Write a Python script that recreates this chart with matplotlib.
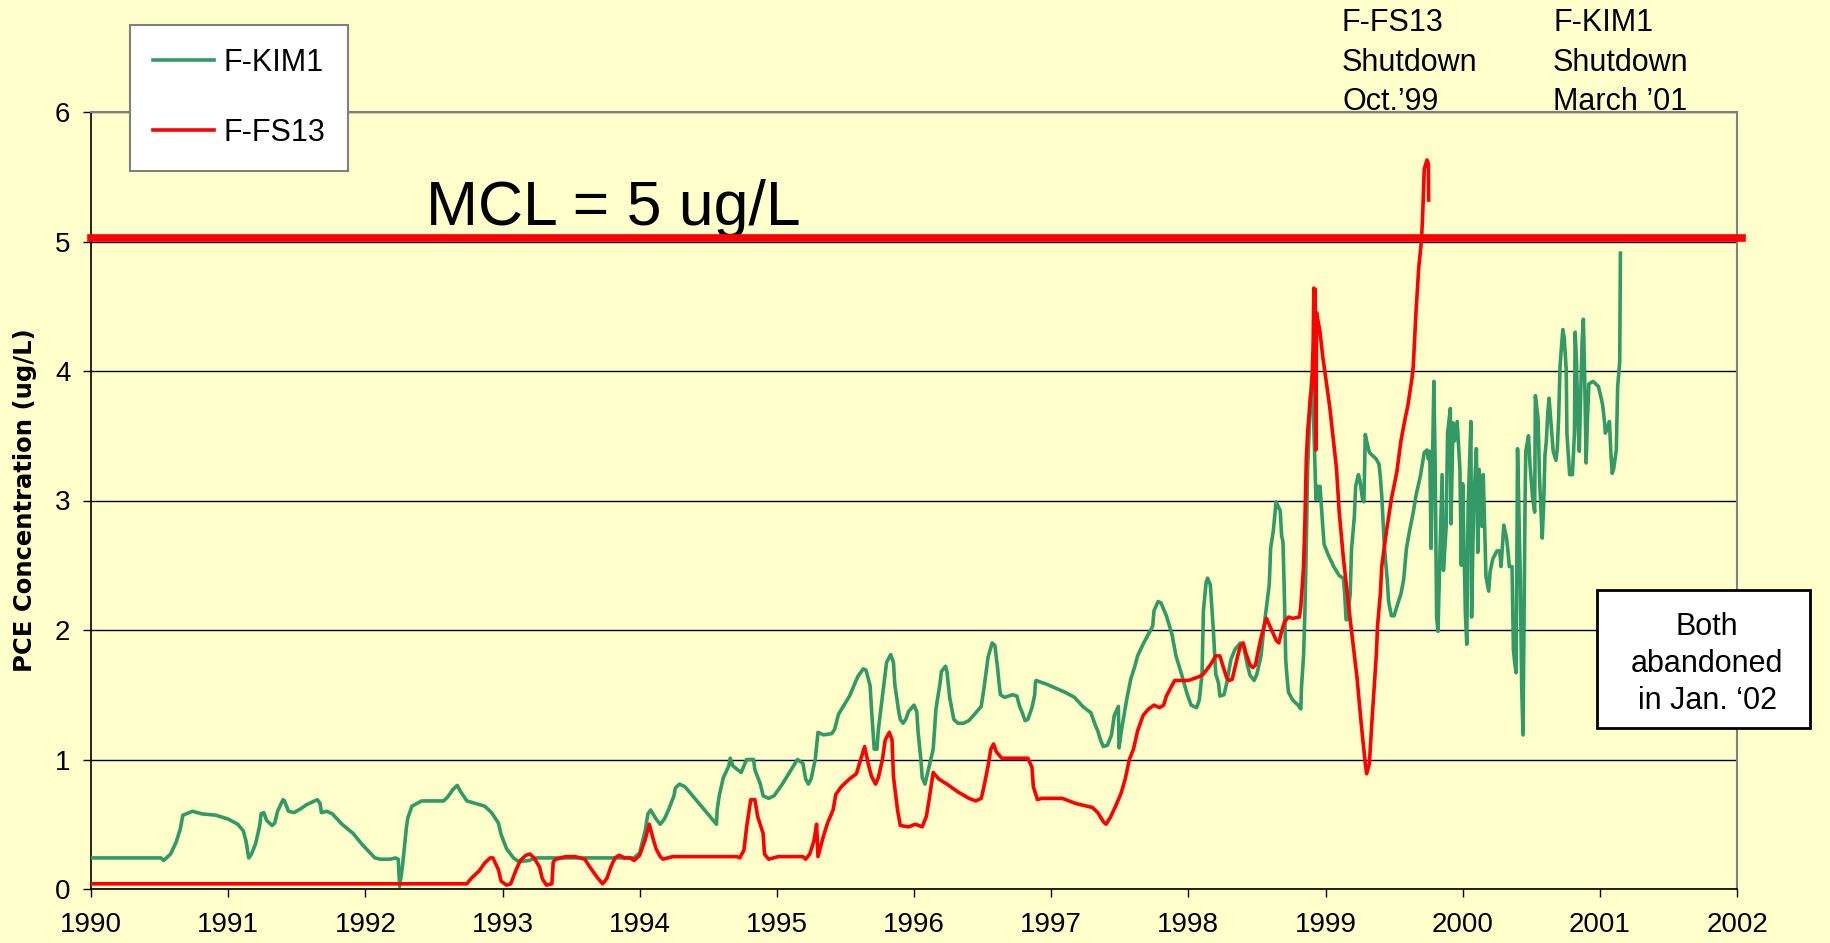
import matplotlib.pyplot as plt
from matplotlib.patches import Rectangle

plt.rcParams['font.family'] = ['Liberation Sans', 'DejaVu Sans']

# F-KIM1 well, PCE (ug/L) vs decimal year
kim_year = [1990.00, 1990.51, 1990.53, 1990.58, 1990.62, 1990.65, 1990.67, 1990.74, 1990.81, 1990.91,
            1991.00, 1991.07, 1991.11, 1991.13, 1991.15, 1991.17, 1991.20, 1991.23, 1991.24, 1991.26,
            1991.28, 1991.32, 1991.34, 1991.36, 1991.40, 1991.41, 1991.44, 1991.48, 1991.53, 1991.57,
            1991.65, 1991.67, 1991.68, 1991.72, 1991.76, 1991.83, 1991.91, 1991.98, 1992.07, 1992.11,
            1992.18, 1992.22, 1992.24, 1992.25, 1992.27, 1992.28, 1992.30, 1992.31, 1992.34, 1992.41,
            1992.57, 1992.60, 1992.64, 1992.67, 1992.69, 1992.74, 1992.87, 1992.92, 1992.97, 1992.99,
            1993.03, 1993.08, 1993.12, 1993.19, 1993.25, 1993.96, 1994.00, 1994.04, 1994.06, 1994.08,
            1994.12, 1994.15, 1994.18, 1994.21, 1994.25, 1994.26, 1994.29, 1994.33, 1994.37, 1994.56,
            1994.565, 1994.58, 1994.61, 1994.65, 1994.66, 1994.68, 1994.74, 1994.78, 1994.83, 1994.84,
            1994.88, 1994.90, 1994.94, 1994.98, 1995.04, 1995.15, 1995.19, 1995.21, 1995.23, 1995.25,
            1995.28, 1995.30, 1995.34, 1995.40, 1995.42, 1995.45, 1995.53, 1995.57, 1995.59, 1995.63,
            1995.65, 1995.68, 1995.69, 1995.71, 1995.73, 1995.74, 1995.77, 1995.80, 1995.83, 1995.85,
            1995.86, 1995.89, 1995.90, 1995.92, 1995.94, 1995.96, 1996.00, 1996.02, 1996.03, 1996.05,
            1996.06, 1996.08, 1996.10, 1996.14, 1996.16, 1996.19, 1996.20, 1996.23, 1996.24, 1996.26,
            1996.29, 1996.32, 1996.36, 1996.40, 1996.45, 1996.49, 1996.51, 1996.54, 1996.57, 1996.59,
            1996.61, 1996.62, 1996.63, 1996.66, 1996.72, 1996.75, 1996.77, 1996.79, 1996.81, 1996.83,
            1996.86, 1996.88, 1996.885, 1996.89, 1996.97, 1997.10, 1997.17, 1997.23, 1997.29, 1997.32,
            1997.34, 1997.36, 1997.38, 1997.41, 1997.44, 1997.46, 1997.49, 1997.495, 1997.51, 1997.55,
            1997.58, 1997.61, 1997.63, 1997.67, 1997.71, 1997.74, 1997.75, 1997.78, 1997.80, 1997.84,
            1997.88, 1997.91, 1997.95, 1997.99, 1998.02, 1998.06, 1998.08, 1998.10, 1998.11, 1998.13,
            1998.14, 1998.16, 1998.18, 1998.20, 1998.22, 1998.23, 1998.26, 1998.28, 1998.31, 1998.34,
            1998.38, 1998.40, 1998.43, 1998.45, 1998.48, 1998.50, 1998.53, 1998.55, 1998.57, 1998.59,
            1998.60, 1998.62, 1998.64, 1998.67, 1998.68, 1998.69, 1998.70, 1998.71, 1998.72, 1998.73,
            1998.76, 1998.80, 1998.82, 1998.825, 1998.84, 1998.85, 1998.86, 1998.87, 1998.88, 1998.89,
            1998.90, 1998.91, 1998.92, 1998.93, 1998.94, 1998.95, 1998.96, 1998.98, 1998.99, 1999.02,
            1999.06, 1999.10, 1999.13, 1999.14, 1999.15, 1999.16, 1999.18, 1999.19, 1999.21, 1999.22,
            1999.24, 1999.25, 1999.27, 1999.28, 1999.29, 1999.30, 1999.32, 1999.37, 1999.39, 1999.40,
            1999.41, 1999.42, 1999.43, 1999.45, 1999.46, 1999.48, 1999.50, 1999.52, 1999.55, 1999.57,
            1999.59, 1999.61, 1999.64, 1999.66, 1999.69, 1999.72, 1999.74, 1999.75, 1999.76, 1999.77,
            1999.79, 1999.80, 1999.81, 1999.82, 1999.83, 1999.85, 1999.86, 1999.88, 1999.89, 1999.91,
            1999.915, 1999.93, 1999.94, 1999.96, 1999.98, 1999.99, 2000.00, 2000.02, 2000.03, 2000.04,
            2000.06, 2000.065, 2000.08, 2000.10, 2000.11, 2000.12, 2000.14, 2000.15, 2000.16, 2000.17,
            2000.19, 2000.20, 2000.22, 2000.25, 2000.27, 2000.28, 2000.30, 2000.32, 2000.33, 2000.34,
            2000.36, 2000.37, 2000.38, 2000.39, 2000.40, 2000.42, 2000.43, 2000.44, 2000.45, 2000.455,
            2000.46, 2000.48, 2000.49, 2000.51, 2000.525, 2000.53, 2000.55, 2000.56, 2000.58, 2000.59,
            2000.60, 2000.61, 2000.62, 2000.63, 2000.65, 2000.66, 2000.68, 2000.69, 2000.70, 2000.71,
            2000.73, 2000.74, 2000.755, 2000.76, 2000.78, 2000.80, 2000.815, 2000.82, 2000.83, 2000.84,
            2000.85, 2000.87, 2000.88, 2000.89, 2000.90, 2000.91, 2000.92, 2000.95, 2000.99, 2001.01,
            2001.02, 2001.035, 2001.04, 2001.06, 2001.07, 2001.08, 2001.09, 2001.10, 2001.12, 2001.13,
            2001.145, 2001.15]
kim_pce = [0.24, 0.24, 0.22, 0.27, 0.36, 0.46, 0.57, 0.60, 0.58, 0.57,
           0.54, 0.50, 0.45, 0.37, 0.24, 0.27, 0.35, 0.49, 0.58, 0.59,
           0.53, 0.49, 0.51, 0.60, 0.69, 0.68, 0.60, 0.59, 0.62, 0.65,
           0.69, 0.66, 0.59, 0.60, 0.58, 0.50, 0.43, 0.34, 0.24, 0.23,
           0.23, 0.24, 0.23, 0.02, 0.17, 0.27, 0.48, 0.55, 0.64, 0.68,
           0.68, 0.71, 0.77, 0.80, 0.76, 0.68, 0.64, 0.59, 0.51, 0.42,
           0.31, 0.24, 0.21, 0.22, 0.24, 0.24, 0.28, 0.45, 0.58, 0.61,
           0.54, 0.50, 0.54, 0.61, 0.72, 0.78, 0.81, 0.79, 0.74, 0.50,
           0.61, 0.72, 0.86, 0.95, 1.01, 0.95, 0.90, 1.00, 1.00, 0.92,
           0.81, 0.72, 0.70, 0.72, 0.81, 1.00, 0.97, 0.85, 0.81, 0.85,
           1.00, 1.21, 1.19, 1.20, 1.23, 1.35, 1.49, 1.59, 1.64, 1.70,
           1.69, 1.57, 1.39, 1.08, 1.08, 1.23, 1.49, 1.75, 1.81, 1.75,
           1.58, 1.36, 1.31, 1.28, 1.31, 1.37, 1.42, 1.37, 1.21, 1.00,
           0.86, 0.81, 0.90, 1.08, 1.39, 1.59, 1.68, 1.72, 1.68, 1.48,
           1.31, 1.28, 1.28, 1.30, 1.36, 1.41, 1.55, 1.79, 1.90, 1.88,
           1.70, 1.59, 1.50, 1.48, 1.50, 1.49, 1.41, 1.36, 1.30, 1.31,
           1.40, 1.50, 1.59, 1.61, 1.58, 1.52, 1.48, 1.41, 1.36, 1.27,
           1.22, 1.15, 1.10, 1.11, 1.19, 1.34, 1.41, 1.09, 1.21, 1.46,
           1.62, 1.72, 1.80, 1.89, 1.97, 2.03, 2.15, 2.22, 2.21, 2.11,
           1.97, 1.80, 1.66, 1.51, 1.42, 1.40, 1.46, 1.66, 2.15, 2.37,
           2.40, 2.35, 2.04, 1.66, 1.59, 1.49, 1.50, 1.59, 1.77, 1.85,
           1.90, 1.89, 1.73, 1.65, 1.61, 1.66, 1.80, 2.01, 2.18, 2.35,
           2.63, 2.77, 2.99, 2.92, 2.73, 2.68, 2.28, 1.77, 1.63, 1.52,
           1.46, 1.42, 1.39, 1.56, 1.80, 2.15, 2.66, 3.25, 3.53, 3.80,
           3.96, 3.73, 3.39, 3.01, 3.11, 3.01, 3.11, 2.80, 2.66, 2.58,
           2.49, 2.42, 2.40, 2.28, 2.08, 2.08, 2.28, 2.63, 2.87, 3.11,
           3.20, 3.16, 3.01, 2.99, 3.51, 3.46, 3.37, 3.32, 3.28, 3.18,
           3.04, 2.84, 2.63, 2.39, 2.22, 2.11, 2.11, 2.18, 2.28, 2.39,
           2.63, 2.75, 2.91, 3.04, 3.18, 3.37, 3.39, 3.32, 3.38, 2.63,
           3.92, 3.24, 2.10, 1.99, 2.41, 3.20, 2.46, 2.80, 3.52, 3.71,
           2.82, 3.60, 3.46, 3.61, 3.24, 2.50, 3.13, 2.12, 1.89, 2.96,
           3.61, 2.10, 2.96, 3.40, 2.60, 3.24, 2.80, 3.20, 2.80, 2.41,
           2.30, 2.45, 2.55, 2.61, 2.61, 2.49, 2.81, 2.71, 2.61, 2.49,
           2.49, 1.85, 1.74, 1.67, 3.40, 2.41, 1.58, 1.19, 2.41, 2.99,
           3.38, 3.50, 3.29, 3.02, 2.91, 3.81, 3.63, 3.18, 2.71, 2.96,
           3.35, 3.46, 3.67, 3.79, 3.52, 3.38, 3.31, 3.40, 3.65, 4.04,
           4.32, 4.26, 4.01, 3.52, 3.20, 3.20, 3.52, 4.30, 4.07, 3.63,
           3.38, 4.21, 4.40, 3.93, 3.29, 3.63, 3.90, 3.92, 3.88, 3.79,
           3.74, 3.60, 3.52, 3.57, 3.61, 3.38, 3.21, 3.24, 3.39, 3.88,
           4.07, 4.91]

# F-FS13 well, PCE (ug/L) vs decimal year
fs_year = [1990.00, 1992.74, 1992.77, 1992.83, 1992.87, 1992.91, 1992.93, 1992.97, 1992.99, 1993.03,
           1993.06, 1993.10, 1993.13, 1993.17, 1993.20, 1993.23, 1993.27, 1993.29, 1993.32, 1993.36,
           1993.37, 1993.39, 1993.46, 1993.53, 1993.60, 1993.63, 1993.69, 1993.73, 1993.76, 1993.79,
           1993.82, 1993.85, 1993.89, 1993.93, 1993.96, 1994.00, 1994.04, 1994.07, 1994.10, 1994.12,
           1994.15, 1994.17, 1994.24, 1994.71, 1994.73, 1994.76, 1994.78, 1994.81, 1994.84, 1994.86,
           1994.90, 1994.91, 1994.94, 1995.01, 1995.19, 1995.21, 1995.24, 1995.27, 1995.29, 1995.30,
           1995.34, 1995.37, 1995.41, 1995.43, 1995.47, 1995.53, 1995.58, 1995.60, 1995.64, 1995.67,
           1995.69, 1995.72, 1995.74, 1995.77, 1995.79, 1995.82, 1995.84, 1995.85, 1995.88, 1995.90,
           1995.96, 1996.01, 1996.06, 1996.09, 1996.11, 1996.14, 1996.18, 1996.24, 1996.32, 1996.40,
           1996.45, 1996.49, 1996.51, 1996.54, 1996.56, 1996.58, 1996.60, 1996.64, 1996.83, 1996.86,
           1996.87, 1996.90, 1996.93, 1997.08, 1997.18, 1997.30, 1997.34, 1997.38, 1997.40, 1997.43,
           1997.47, 1997.51, 1997.54, 1997.57, 1997.60, 1997.63, 1997.67, 1997.71, 1997.75, 1997.79,
           1997.82, 1997.84, 1997.87, 1997.90, 1998.00, 1998.08, 1998.11, 1998.16, 1998.20, 1998.23,
           1998.25, 1998.28, 1998.30, 1998.32, 1998.34, 1998.36, 1998.38, 1998.40, 1998.42, 1998.45,
           1998.47, 1998.49, 1998.51, 1998.53, 1998.56, 1998.57, 1998.59, 1998.62, 1998.64, 1998.66,
           1998.68, 1998.70, 1998.73, 1998.76, 1998.81, 1998.82, 1998.84, 1998.85, 1998.86, 1998.87,
           1998.89, 1998.90, 1998.91, 1998.915, 1998.925, 1998.93, 1998.935, 1998.96, 1998.98, 1999.03,
           1999.08, 1999.10, 1999.13, 1999.18, 1999.23, 1999.26, 1999.29, 1999.30, 1999.32, 1999.34,
           1999.37, 1999.38, 1999.40, 1999.41, 1999.44, 1999.48, 1999.52, 1999.55, 1999.58, 1999.60,
           1999.63, 1999.64, 1999.65, 1999.66, 1999.68, 1999.70, 1999.71, 1999.72, 1999.74, 1999.75,
           1999.752]
fs_pce = [0.04, 0.04, 0.08, 0.14, 0.20, 0.24, 0.24, 0.15, 0.06, 0.03,
          0.04, 0.15, 0.22, 0.26, 0.27, 0.24, 0.17, 0.08, 0.03, 0.04,
          0.21, 0.23, 0.25, 0.25, 0.23, 0.18, 0.09, 0.04, 0.08, 0.17,
          0.24, 0.26, 0.24, 0.24, 0.22, 0.26, 0.38, 0.50, 0.38, 0.31,
          0.25, 0.23, 0.25, 0.25, 0.24, 0.30, 0.48, 0.69, 0.69, 0.56,
          0.43, 0.27, 0.23, 0.25, 0.25, 0.23, 0.27, 0.37, 0.50, 0.25,
          0.41, 0.51, 0.61, 0.73, 0.79, 0.85, 0.89, 0.96, 1.10, 0.95,
          0.87, 0.81, 0.86, 1.00, 1.15, 1.21, 1.15, 0.87, 0.61, 0.49,
          0.48, 0.50, 0.48, 0.56, 0.69, 0.90, 0.85, 0.81, 0.75, 0.70,
          0.68, 0.70, 0.79, 0.95, 1.08, 1.12, 1.06, 1.01, 1.01, 0.94,
          0.79, 0.69, 0.70, 0.70, 0.66, 0.63, 0.59, 0.52, 0.50, 0.55,
          0.64, 0.74, 0.85, 1.00, 1.08, 1.22, 1.34, 1.39, 1.42, 1.40,
          1.42, 1.49, 1.55, 1.61, 1.61, 1.64, 1.66, 1.73, 1.80, 1.80,
          1.73, 1.63, 1.61, 1.62, 1.71, 1.80, 1.88, 1.90, 1.82, 1.73,
          1.71, 1.73, 1.84, 1.94, 2.06, 2.09, 2.04, 1.97, 1.92, 1.90,
          1.99, 2.06, 2.10, 2.09, 2.10, 2.18, 2.49, 2.84, 3.32, 3.53,
          3.80, 3.87, 4.22, 4.64, 4.63, 3.39, 4.45, 4.30, 4.11, 3.73,
          3.25, 2.91, 2.56, 2.08, 1.63, 1.28, 0.97, 0.89, 0.97, 1.32,
          1.80, 2.04, 2.28, 2.49, 2.73, 3.01, 3.22, 3.46, 3.63, 3.73,
          3.94, 4.04, 4.25, 4.46, 4.80, 5.01, 5.25, 5.56, 5.63, 5.60,
          5.32]

mcl = 5.03
year_ticks = list(range(1990, 2003))
pce_ticks = [0, 1, 2, 3, 4, 5, 6]

bg = '#FFFFCC'
green = '#339966'

fig = plt.figure(figsize=(18.3, 9.43), dpi=100, facecolor=bg)
ax = fig.add_axes([91/1830, 54/943, 1646/1830, 777/943])
ax.set_facecolor(bg)

ax.plot(kim_year, kim_pce, color=green, lw=2.6, label='F-KIM1', zorder=3)
ax.plot(fs_year, fs_pce, color='red', lw=2.6, label='F-FS13', zorder=3)
ax.axhline(mcl, xmax=1.003, color='red', lw=5.5, clip_on=False, zorder=4)

ax.text(1992.44, 5.13, 'MCL = 5 ug/L', fontsize=45, va='baseline')

ax.set_xlim(1990, 2002)
ax.set_ylim(0, 6)
ax.set_xticks(year_ticks)
ax.set_yticks(pce_ticks)
ax.yaxis.grid(True, color='black', lw=1)
ax.set_axisbelow(True)
ax.tick_params(axis='both', direction='out', length=5.8, width=1, labelsize=20)
ax.tick_params(axis='x', pad=11)
ax.tick_params(axis='y', pad=9)
for s in ['top', 'right']:
    ax.spines[s].set_color('#808080')
    ax.spines[s].set_linewidth(1.5)
for s in ['left', 'bottom']:
    ax.spines[s].set_color('black')
    ax.spines[s].set_linewidth(1.2)

ax.set_ylabel('PCE Concentration (ug/L)', fontsize=17.5, fontweight='bold', family='DejaVu Sans')
ax.yaxis.set_label_coords(-0.033, 0.5)

leg = ax.legend(loc='upper left', bbox_to_anchor=(130/1830, 1 - 25/943),
                bbox_transform=fig.transFigure, fontsize=22, frameon=True,
                fancybox=False, edgecolor='#808080', facecolor='white', framealpha=1,
                borderaxespad=0, borderpad=0.75, labelspacing=1.3,
                handlelength=2.0, handletextpad=0.3)
leg.get_frame().set_linewidth(1.5)

# shutdown notes above the plot
fig.text(1342/1830, 1 - 8/943, 'F-FS13\nShutdown\nOct.’99', fontsize=22,
         ha='left', va='top', linespacing=1.42)
fig.text(1553/1830, 1 - 8/943, 'F-KIM1\nShutdown\nMarch ’01', fontsize=22,
         ha='left', va='top', linespacing=1.42)

# abandoned box
fig.add_artist(Rectangle((1597/1830, 1 - 728/943), 213/1830, 138/943,
                         transform=fig.transFigure, facecolor='white',
                         edgecolor='black', lw=2, zorder=5))
fig.text(1707/1830, 1 - 664/943, 'Both\nabandoned\nin Jan. ‘02', fontsize=22,
         ha='center', va='center', linespacing=1.3, zorder=6)

fig.savefig('out.png', dpi=100, facecolor=bg)
